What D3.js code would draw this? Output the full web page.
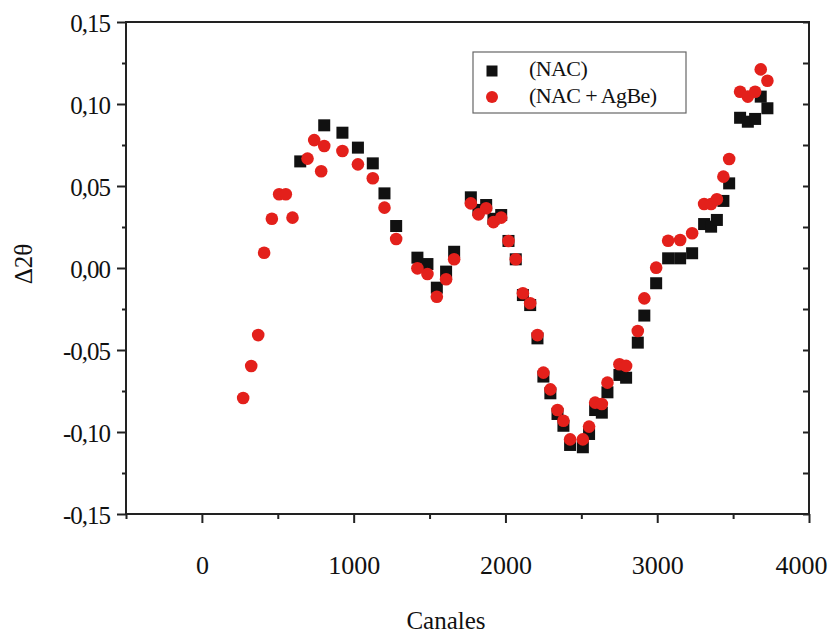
<!DOCTYPE html>
<html>
<head>
<meta charset="utf-8">
<script src="https://cdn.jsdelivr.net/npm/d3@7"></script>
<style>
  html, body { margin: 0; padding: 0; background: #fff; }
  svg { display: block; }
  text { font-family: "Liberation Serif", "Times New Roman", serif; fill: #111; }
</style>
</head>
<body>
<svg id="chart" width="830" height="637"></svg>
<script>
// ---- Data ----
const nacChannels = [648, 806, 926, 1028, 1126, 1203, 1280, 1420, 1486, 1548, 1609, 1662,
  1772, 1822, 1873, 1921, 1972, 2020, 2068, 2115, 2163, 2211, 2250, 2296, 2343, 2382,
  2426, 2510, 2551, 2591, 2635, 2672, 2751, 2795, 2872, 2915, 2993, 3072, 3151, 3230,
  3309, 3355, 3393, 3436, 3474, 3546, 3597, 3645, 3682, 3726];
const nacValues = [0.065, 0.087, 0.0825, 0.0734, 0.0638, 0.0455, 0.0256, 0.0063, 0.0024, -0.012, -0.0022, 0.0099,
  0.0431, 0.0354, 0.0384, 0.030, 0.0323, 0.0165, 0.0053, -0.0165, -0.0226, -0.0429, -0.0662, -0.0764, -0.089, -0.0962,
  -0.1079, -0.1093, -0.1012, -0.0866, -0.0882, -0.0758, -0.0652, -0.0669, -0.0455, -0.029, -0.0093, 0.0059, 0.0059, 0.009,
  0.0268, 0.0252, 0.0293, 0.0409, 0.0516, 0.0916, 0.0892, 0.0909, 0.1045, 0.0974];

const agbeChannels = [272, 325, 371, 410, 461, 509, 553, 597, 696, 740, 786, 806, 926, 1028, 1126, 1203,
  1280, 1420, 1486, 1548, 1609, 1662, 1772, 1822, 1873, 1921, 1972, 2020, 2068, 2115, 2163, 2211,
  2250, 2296, 2343, 2382, 2426, 2510, 2551, 2591, 2635, 2672, 2751, 2795, 2872, 2915, 2993, 3072,
  3151, 3230, 3309, 3355, 3393, 3436, 3474, 3546, 3597, 3645, 3682, 3726];
const agbeValues = [-0.0793, -0.0598, -0.0409, 0.0093, 0.030, 0.045, 0.045, 0.0307, 0.0667, 0.078, 0.059, 0.0744, 0.0713, 0.0632, 0.0547, 0.0368,
  0.0177, -0.0002, -0.0037, -0.0175, -0.0069, 0.0053, 0.0394, 0.0327, 0.0364, 0.028, 0.0307, 0.0165, 0.0053, -0.0154, -0.0215, -0.0409,
  -0.0638, -0.074, -0.0866, -0.0931, -0.1045, -0.1045, -0.0967, -0.0821, -0.0829, -0.0699, -0.0587, -0.0597, -0.0384, -0.0185, 0.0002, 0.0166,
  0.0171, 0.0212, 0.039, 0.039, 0.0419, 0.0557, 0.0665, 0.1075, 0.1045, 0.1075, 0.1211, 0.1142];

const xMajorTicks = [0, 1000, 2000, 3000, 4000];
const xMinorTicks = [-500, 500, 1500, 2500, 3500];
const yMajorTicks = [-0.15, -0.10, -0.05, 0.00, 0.05, 0.10, 0.15];
const yMinorTicks = [-0.125, -0.075, -0.025, 0.025, 0.075, 0.125];
const seriesNames = ["(NAC)", "(NAC + AgBe)"];
const xTitle = "Canales";
const yTitle = "\u03942\u03b8";

(function () {
// ---- Layout ----
const pLeft = 126, pRight = 809, pTop = 22, pBottom = 514;
const svg = d3.select("#chart");
svg.append("rect").attr("width", 830).attr("height", 637).attr("fill", "#fff");

const x = d3.scaleLinear().domain([-500, 4000]).range([pLeft, pRight]);
const y = d3.scaleLinear().domain([-0.15, 0.15]).range([pBottom, pTop]);
const axisColor = "#222";
const fmt = v => d3.format(".2f")(v).replace("\u2212", "-").replace(".", ",");

// Frame
svg.append("rect").attr("x", pLeft).attr("y", pTop).attr("width", pRight - pLeft).attr("height", pBottom - pTop)
  .attr("fill", "none").attr("stroke", axisColor).attr("stroke-width", 2);

// Bottom axis (outward ticks)
const gx = svg.append("g").attr("transform", `translate(0,${pBottom})`);
gx.call(d3.axisBottom(x).tickValues(xMajorTicks).tickSize(9).tickFormat(d3.format("d")));
gx.select(".domain").remove();
gx.selectAll(".tick line").attr("stroke", axisColor).attr("stroke-width", 2);
gx.selectAll(".tick text").attr("font-size", 26).attr("dy", null).attr("y", 60)
  .attr("dx", d => d === 4000 ? -8 : 0)
  .style("font-family", '"Liberation Serif", serif').attr("fill", "#111");
const gxm = svg.append("g").attr("transform", `translate(0,${pBottom})`);
gxm.call(d3.axisBottom(x).tickValues(xMinorTicks).tickSize(5).tickFormat(""));
gxm.select(".domain").remove();
gxm.selectAll(".tick line").attr("stroke", axisColor).attr("stroke-width", 2);

// Left axis (outward ticks)
const gy = svg.append("g").attr("transform", `translate(${pLeft},0)`);
gy.call(d3.axisLeft(y).tickValues(yMajorTicks).tickSize(9).tickFormat(fmt));
gy.select(".domain").remove();
gy.selectAll(".tick line").attr("stroke", axisColor).attr("stroke-width", 2);
gy.selectAll(".tick text").attr("font-size", 25).attr("x", -16).attr("dy", "0.36em")
  .attr("letter-spacing", "-1px")
  .style("font-family", '"Liberation Serif", serif').attr("fill", "#111");
const gym = svg.append("g").attr("transform", `translate(${pLeft},0)`);
gym.call(d3.axisLeft(y).tickValues(yMinorTicks).tickSize(4).tickFormat(""));
gym.select(".domain").remove();
gym.selectAll(".tick line").attr("stroke", axisColor).attr("stroke-width", 2);

// Right axis (inward ticks)
const gr = svg.append("g").attr("transform", `translate(${pRight},0)`);
gr.call(d3.axisRight(y).tickValues(yMajorTicks.concat(yMinorTicks)).tickSize(-6).tickFormat(""));
gr.select(".domain").remove();
gr.selectAll(".tick line").attr("stroke", axisColor).attr("stroke-width", 2);

// Axis titles
svg.append("text").attr("x", 446).attr("y", 629).attr("text-anchor", "middle")
  .attr("font-size", 25).text(xTitle);
svg.append("text").attr("transform", "translate(32,264) rotate(-90)").attr("text-anchor", "middle")
  .attr("font-size", 25).text(yTitle);

// Data marks
const nac = nacChannels.map((c, i) => ({ c, v: nacValues[i] }));
const agbe = agbeChannels.map((c, i) => ({ c, v: agbeValues[i] }));
const sq = 12;
svg.append("g").selectAll("rect").data(nac).join("rect")
  .attr("x", d => x(d.c) - sq / 2).attr("y", d => y(d.v) - sq / 2)
  .attr("width", sq).attr("height", sq).attr("fill", "#111");
svg.append("g").selectAll("circle").data(agbe).join("circle")
  .attr("cx", d => x(d.c)).attr("cy", d => y(d.v)).attr("r", 6.3)
  .attr("fill", "#e3201b");

// Legend
const lg = svg.append("g");
lg.append("rect").attr("x", 473).attr("y", 52).attr("width", 213).attr("height", 61)
  .attr("fill", "#fff").attr("stroke", "#666").attr("stroke-width", 1.2);
lg.append("rect").attr("x", 492 - 5.5).attr("y", 71 - 5.5).attr("width", 11).attr("height", 11).attr("fill", "#111");
lg.append("circle").attr("cx", 492).attr("cy", 97).attr("r", 6).attr("fill", "#e3201b");
lg.append("text").attr("x", 529).attr("y", 76).attr("font-size", 22).attr("letter-spacing", "-0.6px").text(seriesNames[0]);
lg.append("text").attr("x", 529).attr("y", 103).attr("font-size", 22).attr("letter-spacing", "-0.6px").text(seriesNames[1]);
})();
</script>
</body>
</html>
